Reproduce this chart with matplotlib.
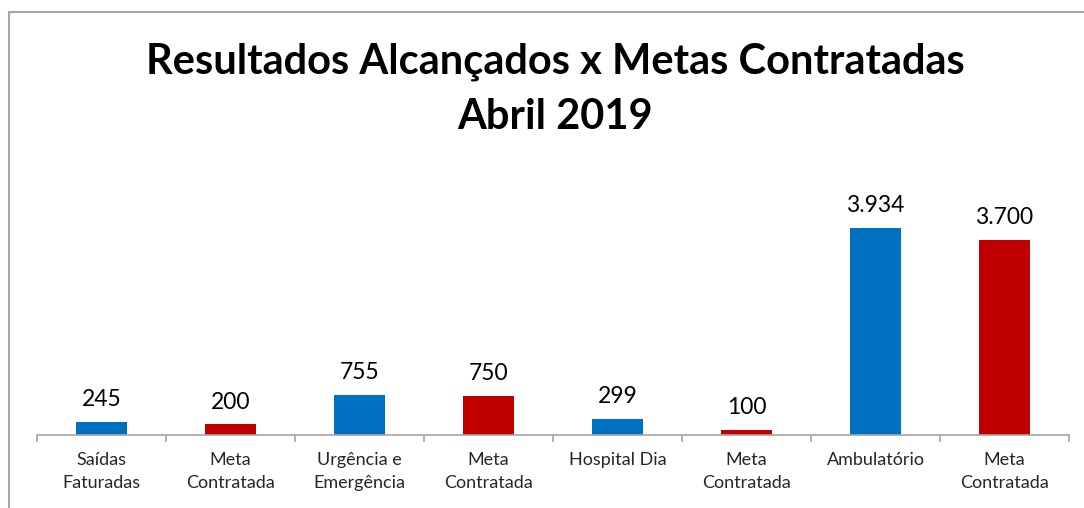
import matplotlib.pyplot as plt
from matplotlib.patches import Rectangle

# -----------------------------
# Data
# -----------------------------
categories = [
    "Saídas\nFaturadas", "Meta\nContratada",
    "Urgência e\nEmergência", "Meta\nContratada",
    "Hospital Dia", "Meta\nContratada",
    "Ambulatório", "Meta\nContratada",
]
values = [245, 200, 755, 750, 299, 100, 3934, 3700]
value_labels = ["245", "200", "755", "750", "299", "100", "3.934", "3.700"]

blue = "#0070C0"
red = "#C00000"
colors = [blue, red] * 4

plt.rcParams['font.family'] = ['Lato', 'DejaVu Sans']

W, H = 1084, 508
fig = plt.figure(figsize=(W / 100, H / 100), dpi=100, facecolor="white")

# outer frame
fig.patches.append(Rectangle((9 / W, -0.1), 1.2, (H - 12) / H + 0.1,
                             transform=fig.transFigure, fill=False,
                             edgecolor="#A6A6A6", linewidth=1.5))

# axes placed in pixel terms: x 37..1069, baseline y=435
ax = fig.add_axes([37 / W, (H - 435) / H, (1069 - 37) / W, (435 - 198) / H])
ax.set_facecolor("none")

x = range(len(values))
ax.bar(x, values, width=0.4, color=colors)
ax.set_xlim(-0.5, len(values) - 0.5)
ax.set_ylim(0, 4500)

for i, (v, lab) in enumerate(zip(values, value_labels)):
    ax.annotate(lab, (i, v), xytext=(0, 8.5), textcoords="offset points",
                ha="center", va="bottom", fontsize=16.5, color="#000000")

ax.set_xticks(list(x))
ax.set_xticklabels(categories, fontsize=13, color="#262626", linespacing=1.6)
ax.set_xticks([i - 0.5 for i in range(len(values) + 1)], minor=True)
ax.tick_params(axis="x", which="major", length=0, pad=12)
ax.tick_params(axis="x", which="minor", length=5, color="#A6A6A6", width=1.2)
ax.set_yticks([])

for s in ["top", "right", "left"]:
    ax.spines[s].set_visible(False)
ax.spines["bottom"].set_color("#A6A6A6")
ax.spines["bottom"].set_linewidth(1.2)

fig.text(555 / W, 1 - 62 / H, "Resultados Alcançados x Metas Contratadas",
         ha="center", va="center", fontsize=30, fontweight="bold")
fig.text(555 / W, 1 - 117 / H, "Abril 2019",
         ha="center", va="center", fontsize=30, fontweight="bold")

plt.savefig("out.png", dpi=100)
